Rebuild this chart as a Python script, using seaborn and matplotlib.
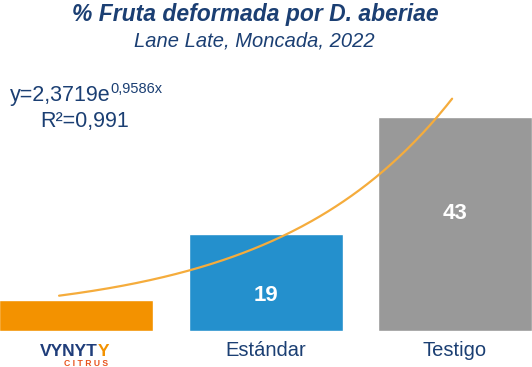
import numpy as np
import pandas as pd
import matplotlib
matplotlib.use("Agg")
import matplotlib.pyplot as plt
import seaborn as sns

# ---- data ----
categories = ["VYNYTY CITRUS", "Estándar", "Testigo"]
values = [6.2, 19.4, 42.8]
value_labels = ["", "19", "43"]
bar_colors = ["#F39200", "#2490CD", "#999999"]

# trend curve as drawn in the picture (1-based category positions)
trend_a, trend_b, trend_c = 1.645, 1.1, 2.59
trend_x_start, trend_x_end = 0.909, 2.985

title = "% Fruta deformada por D. aberiae"
subtitle = "Lane Late, Moncada, 2022"
eq_main = "y=2,3719e"
eq_exp = "0,9586x"
r2_text = "R²=0,991"

# label placement (fraction of bar height) – style only
label_frac = [0.0, 0.37, 0.55]

navy = "#1B3F73"

sns.set_theme(style="white")
plt.rcParams["font.family"] = ["Liberation Sans", "DejaVu Sans"]

fig = plt.figure(figsize=(5.32, 3.67), dpi=100)
W, H = 532, 367
ax = fig.add_axes([0, 36 / H, 1, 331 / H])

df = pd.DataFrame({"cat": categories, "val": values})
sns.barplot(data=df, x="cat", y="val", hue="cat", palette=bar_colors,
            width=0.813, legend=False, ax=ax, saturation=1)

ax.set_xlim(-0.403, 2.407)
ax.set_ylim(0, 66.2)
for s in ax.spines.values():
    s.set_visible(False)
ax.set_yticks([])
ax.set_xlabel("")
ax.set_ylabel("")
ax.set_xticks([0, 1, 2])
ax.set_xticklabels(["", categories[1], categories[2]], color=navy, fontsize=14.5)
ax.tick_params(axis="x", length=0, pad=7)

# trend line
xt = np.linspace(trend_x_start, trend_x_end, 200)
yt = trend_a * np.exp(trend_b * xt) + trend_c
ax.plot(xt - 1, yt, color="#F5AC3C", lw=1.6, zorder=5)

# value labels
for i, (v, lab) in enumerate(zip(values, value_labels)):
    if lab:
        ax.text(i, v * label_frac[i], lab, ha="center", va="center", color="white",
                fontsize=16, fontweight="bold")

fig.canvas.draw()
rend = fig.canvas.get_renderer()

# logo as text
t1 = fig.text(40 / W, 1 - 351 / H, "VYNYT", ha="left", va="center", color="#1F3D7A",
              fontsize=12.5, fontweight="heavy")
bb = t1.get_window_extent(rend)
fig.text(bb.x1 / W, 1 - 351 / H, "Y", ha="left", va="center", color="#F39200",
         fontsize=12.5, fontweight="heavy")
fig.text(86 / W, 1 - 363 / H, "C I T R U S", ha="center", va="center", color="#E8541E",
         fontsize=6.2, fontweight="bold")

# titles
fig.text(255 / W, 1 - 15 / H, title, ha="center", va="center", color=navy,
         fontsize=16.5, fontweight="bold", style="italic")
fig.text(254 / W, 1 - 41 / H, subtitle, ha="center", va="center", color=navy,
         fontsize=14.5, style="italic")

# equation
te = fig.text(10 / W, 1 - 96 / H, eq_main, ha="left", va="center", color=navy, fontsize=15.5)
bb = te.get_window_extent(rend)
fig.text(bb.x1 / W, 1 - 89 / H, eq_exp, ha="left", va="center", color=navy, fontsize=10.5)
fig.text(40 / W, 1 - 122 / H, r2_text, ha="left", va="center", color=navy, fontsize=15.5)

fig.savefig("out.png", dpi=100)
